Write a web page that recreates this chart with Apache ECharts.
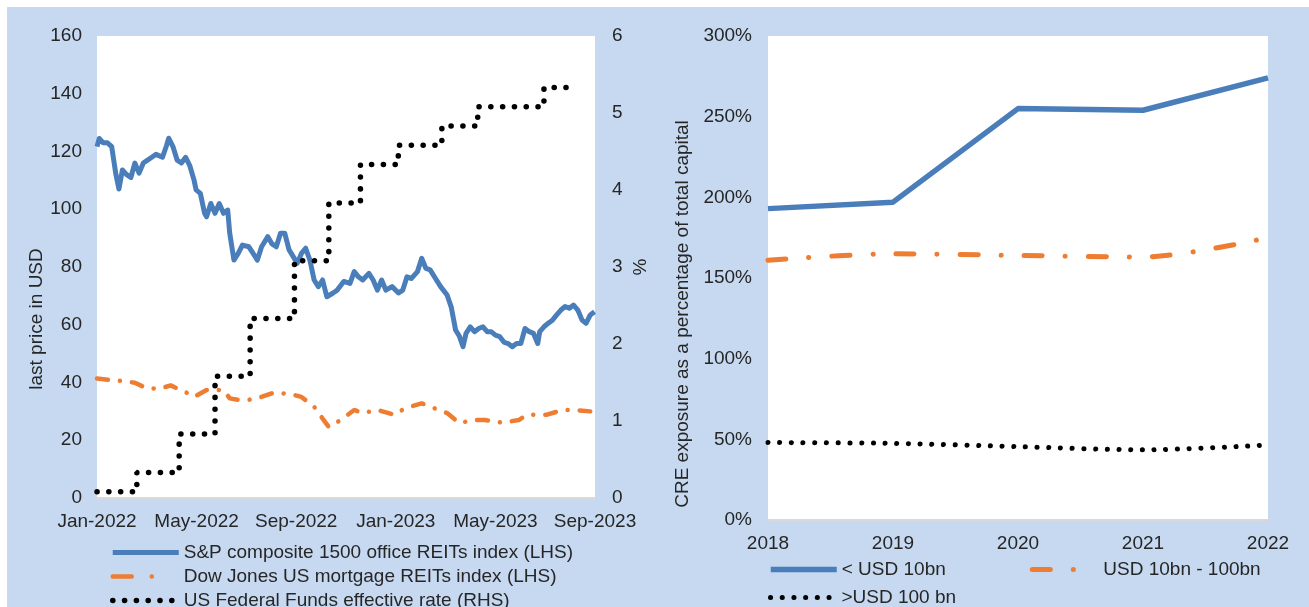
<!DOCTYPE html>
<html><head><meta charset="utf-8">
<script src="https://cdn.jsdelivr.net/npm/echarts@6/dist/echarts.min.js"></script>
<style>
html,body{margin:0;padding:0;background:#fff;width:1309px;height:607px;overflow:hidden}
#bg{position:absolute;left:7px;top:7px;width:1302px;height:600px;background:#C6D9F1}
#c{position:absolute;left:0;top:0;width:1309px;height:607px}
</style></head><body><div id="bg"></div><div id="c"></div>
<script>
// ---- Left panel data (x = months since Jan-2022) ----
const monthTickLabels = ['Jan-2022','May-2022','Sep-2022','Jan-2023','May-2023','Sep-2023'];
const officeReits = [[0,121.7],[0.09,124.5],[0.25,123],[0.42,123],[0.59,121.7],[0.76,112],[0.88,107],[1.02,113.6],[1.19,112],[1.36,111],[1.52,116],[1.69,112.5],[1.86,116],[2.03,117],[2.2,118],[2.37,119],[2.63,118],[2.79,122],[2.88,124.6],[3.05,121.7],[3.22,117],[3.39,116],[3.56,118],[3.73,115],[3.9,110],[3.98,106.7],[4.15,105.5],[4.32,98.6],[4.4,97.4],[4.57,102],[4.74,98.6],[4.91,102],[5.08,98.6],[5.25,99.7],[5.33,91.7],[5.5,82.4],[5.67,84.7],[5.84,87.6],[6.1,87],[6.27,84.7],[6.44,82.4],[6.61,87],[6.86,90.5],[7.03,88],[7.2,87],[7.37,91.7],[7.54,91.7],[7.71,86],[7.88,83.6],[8.04,81.3],[8.21,84.7],[8.38,86.5],[8.55,82.4],[8.72,75.5],[8.89,73.2],[9.06,75.5],[9.23,69.7],[9.48,71],[9.65,72],[9.91,75],[10.16,74.3],[10.33,78.4],[10.5,76.6],[10.67,75.5],[10.92,77.8],[11.09,75.5],[11.26,72],[11.43,75.5],[11.6,72],[11.85,73.2],[12.11,71],[12.28,72],[12.45,76.6],[12.62,76],[12.87,78.4],[13.04,83],[13.21,79.5],[13.38,79],[13.55,76.6],[13.8,73.2],[14.06,70.3],[14.23,66],[14.4,58.2],[14.56,55.9],[14.7,52.4],[14.82,57],[14.99,59.3],[15.16,57.6],[15.33,58.7],[15.5,59.3],[15.67,57.6],[15.83,57.6],[16,56.4],[16.17,55.9],[16.34,54],[16.51,53.5],[16.68,52.4],[16.85,53.5],[17.02,53.5],[17.19,58.7],[17.36,57.6],[17.53,57],[17.7,53.5],[17.78,57.6],[17.95,59.3],[18.12,60.5],[18.29,61.6],[18.46,63.4],[18.63,65.1],[18.8,66.3],[18.97,65.7],[19.14,66.8],[19.31,65.1],[19.48,61.6],[19.64,60.5],[19.81,63.4],[19.98,64.5]];
const mortgageReits = [[0,41.4],[0.59,40.8],[1.02,40.5],[1.52,39.9],[2.03,37.9],[2.54,37.9],[2.96,39],[3.64,36.3],[3.9,35],[4.4,37.4],[5.08,37.4],[5.33,34.5],[5.67,34],[6.1,34],[6.6,35],[7.11,36.5],[7.79,36],[8.21,35],[8.72,31.6],[9.06,27.5],[9.31,24.6],[9.79,27],[10.33,30.5],[10.67,29.4],[11.26,30.5],[11.94,28.8],[12.36,31],[13.04,32.8],[13.72,30.5],[14.06,29.4],[14.56,25.9],[15.07,27],[15.58,27],[16.26,26.1],[16.94,27],[17.27,28.8],[18.04,28.8],[18.71,30.5],[19.14,30.5],[19.81,30]];
const fedFundsRate = [[0,0.08],[1.6,0.33],[3.3,0.83],[4.74,1.58],[6.15,2.33],[7.93,3.08],[9.31,3.83],[10.58,4.33],[12.1,4.58],[13.85,4.83],[15.29,5.08],[17.95,5.33],[18.97,5.33]];
const leftNames = ['S&P composite 1500 office REITs index (LHS)','Dow Jones US mortgage REITs index (LHS)','US Federal Funds effective rate (RHS)'];

// ---- Right panel data ----
const years = ['2018','2019','2020','2021','2022'];
const under10bn = [193, 197, 255, 254, 274];
const between10and100bn = [161, 165, 164, 163, 175];
const over100bn = [48, 47.5, 45.5, 43.5, 46.5];
const rightNames = ['< USD 10bn','USD 10bn - 100bn','>USD 100 bn'];

const BLUE = '#4A7EBB', ORANGE = '#EE7D31', BLACK = '#000000', TXT = '#262626';
const FONT = 'Liberation Sans, Arial, sans-serif';
const lbl = {fontSize:19, color:TXT, fontFamily:FONT};
const legText = {fontSize:19, color:TXT, fontFamily:FONT, lineHeight:19};
const legCommon = {padding:0, itemWidth:66, itemHeight:6, selectedMode:false, textStyle:legText,
  lineStyle:{width:'inherit'}, itemStyle:{opacity:0, borderWidth:0}};

const chart = echarts.init(document.getElementById('c'), null, {renderer:'canvas'});
chart.setOption({
  animation:false,
  textStyle:{fontFamily:FONT},
  grid:[
    {left:97, top:36, width:498, height:462, show:true, backgroundColor:'#fff', borderWidth:0},
    {left:768, top:36, width:500, height:484, show:true, backgroundColor:'#fff', borderWidth:0}
  ],
  xAxis:[
    {type:'value', gridIndex:0, min:0, max:20, interval:4,
     axisLine:{show:true, lineStyle:{color:'#d9d9d9', width:2}}, axisTick:{show:false}, splitLine:{show:false},
     axisLabel:Object.assign({margin:14, formatter:v => monthTickLabels[Math.round(v/4)]}, lbl)},
    {type:'category', gridIndex:1, data:years, boundaryGap:false,
     axisLine:{show:true, lineStyle:{color:'#d9d9d9', width:2}}, axisTick:{show:false}, splitLine:{show:false},
     axisLabel:Object.assign({margin:14}, lbl)}
  ],
  yAxis:[
    {type:'value', gridIndex:0, min:0, max:160, interval:20, axisLine:{show:false}, axisTick:{show:false}, splitLine:{show:false},
     axisLabel:Object.assign({margin:15}, lbl)},
    {type:'value', gridIndex:0, position:'right', min:0, max:6, interval:1, axisLine:{show:false}, axisTick:{show:false}, splitLine:{show:false},
     axisLabel:Object.assign({margin:17}, lbl)},
    {type:'value', gridIndex:1, min:0, max:300, interval:50, axisLine:{show:false}, axisTick:{show:false}, splitLine:{show:false},
     axisLabel:Object.assign({margin:16, formatter:'{value}%'}, lbl)}
  ],
  legend:[
    Object.assign({data:[leftNames[0], {name:leftNames[1], lineStyle:{type:[19,20,0.1,40]}}, leftNames[2]],
      orient:'vertical', left:110, top:543, height:120, itemGap:5}, legCommon),
    Object.assign({data:[rightNames[0], {name:rightNames[1], lineStyle:{type:[18,23,0.1,40]}}],
      orient:'horizontal', left:768, top:560, itemGap:84}, legCommon),
    Object.assign({data:rightNames.slice(2), orient:'horizontal', left:768, top:588}, legCommon)
  ],
  graphic:[
    {type:'text', x:37, y:319, rotation:Math.PI/2, style:{text:'last price in USD', fontSize:19, fill:TXT, fontFamily:FONT, align:'center', verticalAlign:'middle'}},
    {type:'text', x:641, y:267, rotation:Math.PI/2, style:{text:'%', fontSize:19, fill:TXT, fontFamily:FONT, align:'center', verticalAlign:'middle'}},
    {type:'text', x:683, y:314, rotation:Math.PI/2, style:{text:'CRE exposure as a percentage of total capital', fontSize:19, fill:TXT, fontFamily:FONT, align:'center', verticalAlign:'middle'}}
  ],
  series:[
    {name:leftNames[0], type:'line', xAxisIndex:0, yAxisIndex:0, data:officeReits, symbol:'none', color:BLUE,
     lineStyle:{color:BLUE, width:5, join:'round'}},
    {name:leftNames[1], type:'line', xAxisIndex:0, yAxisIndex:0, data:mortgageReits, symbol:'none', color:ORANGE,
     lineStyle:{color:ORANGE, width:4.5, type:[11,12,0.1,12], cap:'round'}},
    {name:leftNames[2], type:'line', xAxisIndex:0, yAxisIndex:1, data:fedFundsRate, step:'end', symbol:'none', color:BLACK,
     lineStyle:{color:BLACK, width:5.5, type:[0.1,11.7], cap:'round'}},
    {name:rightNames[0], type:'line', xAxisIndex:1, yAxisIndex:2, data:under10bn, symbol:'none', color:BLUE,
     lineStyle:{color:BLUE, width:5.5}},
    {name:rightNames[1], type:'line', xAxisIndex:1, yAxisIndex:2, data:between10and100bn, symbol:'none', smooth:0.3, color:ORANGE,
     lineStyle:{color:ORANGE, width:5, type:[18,23,0.1,23], cap:'round'}},
    {name:rightNames[2], type:'line', xAxisIndex:1, yAxisIndex:2, data:over100bn, symbol:'none', smooth:0.3, color:BLACK,
     lineStyle:{color:BLACK, width:5, type:[0.1,11.6], cap:'round'}}
  ]
});
</script></body></html>
